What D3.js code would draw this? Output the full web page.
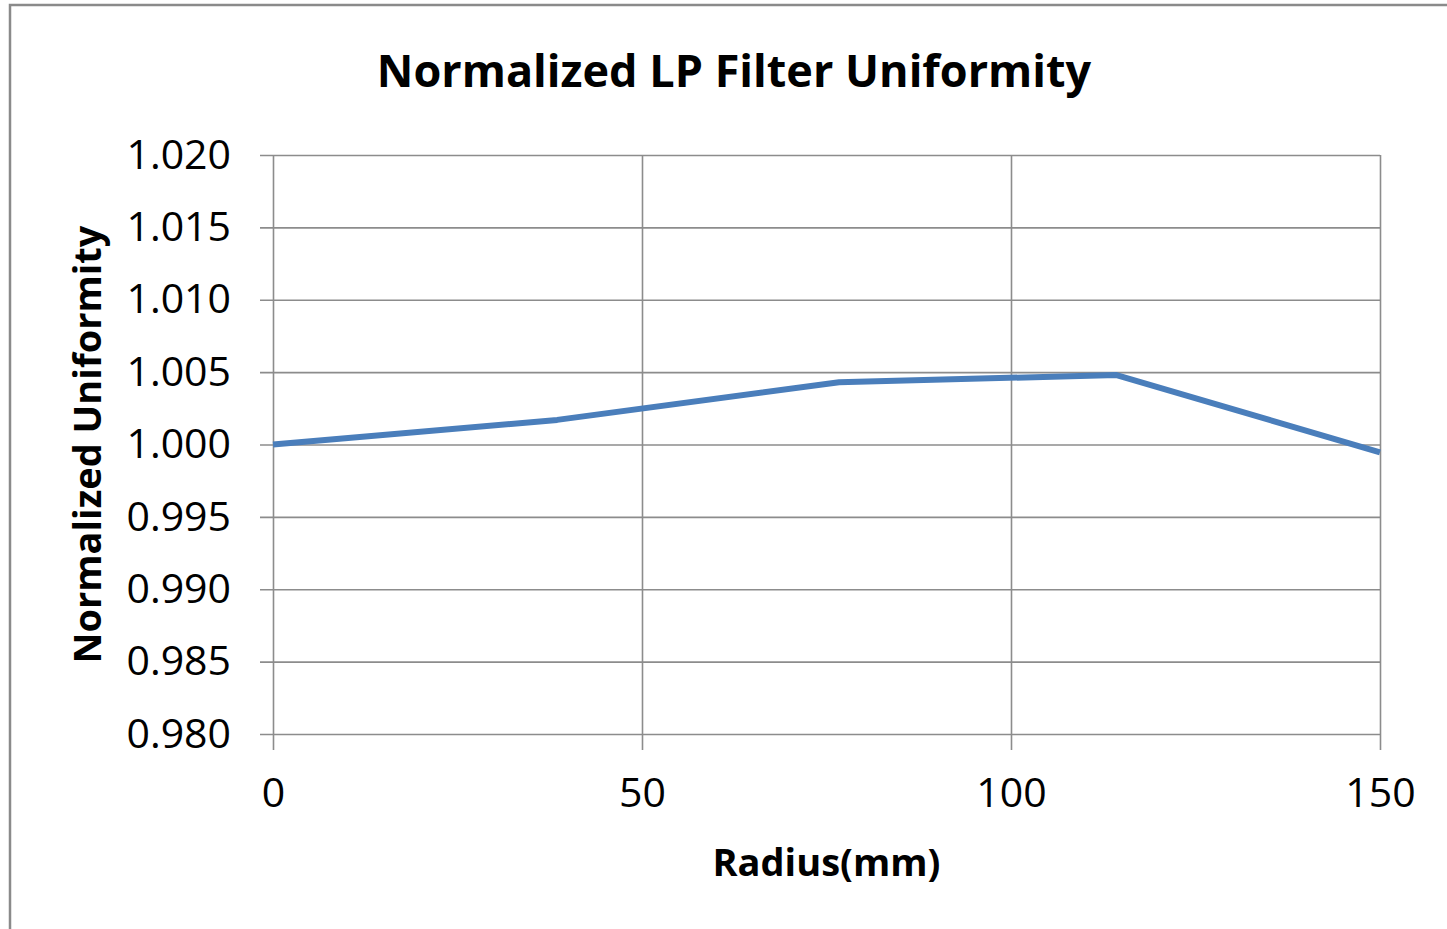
<!DOCTYPE html>
<html>
<head>
<meta charset="utf-8">
<script src="https://cdn.jsdelivr.net/npm/d3@7"></script>
<style>
  body { margin: 0; background: #fff; }
  text { font-family: "Open Sans", sans-serif; fill: #000; }
</style>
</head>
<body>
<div class="viz"></div>
<script>
// data
var radius = [0, 38.5, 76.7, 114.3, 150];
var uniformity = [1.0000, 1.0017, 1.0043, 1.0048, 0.99945];
var xTicks = [0, 50, 100, 150];
var yTicks = [0.980, 0.985, 0.990, 0.995, 1.000, 1.005, 1.010, 1.015, 1.020];

var W = 1447, H = 929;
var margin = {top: 155, right: 67, bottom: 195, left: 273},
    width = W - margin.left - margin.right,
    height = H - margin.top - margin.bottom;

var svg = d3.select(".viz")
  .append("svg")
    .attr("width", W)
    .attr("height", H);

// outer chart border
svg.append("rect")
    .attr("x", 10).attr("y", 5)
    .attr("width", W + 20).attr("height", H + 20)
    .attr("fill", "none")
    .attr("stroke", "#8a8a8a")
    .attr("stroke-width", 2.5);

var g = svg.append("g")
    .attr("transform", "translate(" + margin.left + "," + margin.top + ")");

var x = d3.scaleLinear().domain([0, 150]).range([0, width]);
var y = d3.scaleLinear().domain([0.980, 1.020]).range([height, 0]);

// horizontal gridlines + y axis
g.append("g")
    .attr("class", "yAxis-g")
    .call(d3.axisLeft(y).tickValues(yTicks).tickFormat(d3.format(".3f"))
        .tickSize(-width - 13).tickPadding(30))
    .attr("transform", "translate(-13,0)")
    .call(ax => ax.select(".domain").remove())
    .call(ax => ax.selectAll("line").attr("stroke", "#8c8c8c").attr("stroke-width", 1.6))
    .call(ax => ax.selectAll("text").style("font-size", "41px").attr("dx", "1px"));

// vertical gridlines + x axis
g.append("g")
    .attr("class", "xAxis-g")
    .attr("transform", "translate(0," + height + ")")
    .call(d3.axisBottom(x).tickValues(xTicks).tickSize(-height).tickPadding(0))
    .call(ax => ax.select(".domain").remove())
    .call(ax => ax.selectAll("line").attr("stroke", "#8c8c8c").attr("stroke-width", 1.6)
        .attr("y2", 16).attr("y1", -height))
    .call(ax => ax.selectAll("text").style("font-size", "41px").attr("y", 73).attr("dy", 0));

// the data line
var pts = radius.map((r, i) => ({r: r, v: uniformity[i]}));
g.append("path")
    .datum(pts)
    .attr("fill", "none")
    .attr("stroke", "#4a7ebb")
    .attr("stroke-width", 6)
    .attr("stroke-linejoin", "round")
    .attr("d", d3.line().x(d => x(d.r)).y(d => y(d.v)));

// titles
svg.append("text")
    .attr("x", 734).attr("y", 87)
    .attr("text-anchor", "middle")
    .style("font-size", "45px").style("font-weight", "bold")
    .text("Normalized LP Filter Uniformity");

svg.append("text")
    .attr("x", margin.left + width / 2).attr("y", 876)
    .attr("text-anchor", "middle")
    .style("font-size", "38px").style("font-weight", "bold")
    .text("Radius(mm)");

svg.append("text")
    .attr("transform", "translate(101," + (margin.top + height / 2) + ") rotate(-90)")
    .attr("text-anchor", "middle")
    .style("font-size", "38px").style("font-weight", "bold")
    .text("Normalized Uniformity");
</script>
</body>
</html>
